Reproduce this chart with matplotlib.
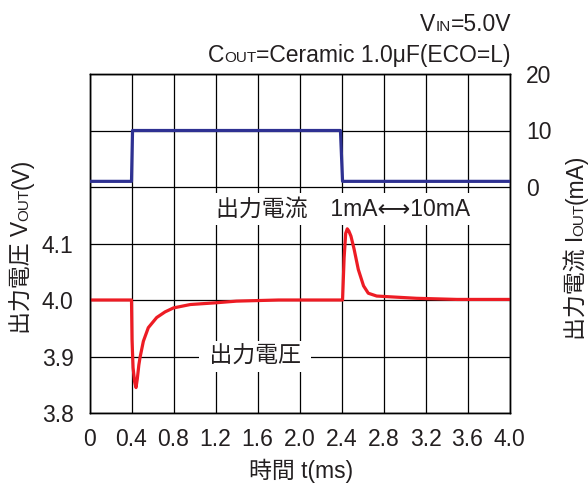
import numpy as np
import matplotlib.pyplot as plt

plt.rcParams['font.family'] = ['Liberation Sans', 'Noto Sans CJK JP', 'DejaVu Sans']

TXT = '#231f20'
BLUE = '#2e3192'
RED = '#ed1c24'
FS = 16.5
FS_SMALL = 11

# axis ticks
t_ticks = [0, 0.4, 0.8, 1.2, 1.6, 2.0, 2.4, 2.8, 3.2, 3.6, 4.0]
t_labels = ['0', '0.4', '0.8', '1.2', '1.6', '2.0', '2.4', '2.8', '3.2', '3.6', '4.0']
v_ticks = [3.8, 3.9, 4.0, 4.1, 4.2, 4.3, 4.4]
v_labels = ['3.8', '3.9', '4.0', '4.1', '', '', '']
i_ticks = [0, 10, 20]

# output current step (mA)
t_i = [0.0, 0.40, 0.41, 2.39, 2.41, 4.0]
i_out = [1, 1, 10, 10, 1, 1]

# output voltage response (V)
t_v = [0.0, 0.40, 0.405, 0.415, 0.43, 0.443, 0.455, 0.47, 0.481, 0.513, 0.56, 0.64,
       0.72, 0.80, 0.96, 1.20, 1.40, 1.80,
       2.41, 2.425, 2.44, 2.455, 2.47, 2.49, 2.52, 2.56, 2.61, 2.655, 2.735, 2.925,
       3.116, 3.31, 3.5, 4.0]
v_out = [4.0, 4.0, 3.93, 3.88, 3.855, 3.845, 3.86, 3.885, 3.898, 3.927, 3.951, 3.969,
         3.979, 3.986, 3.992, 3.995, 3.998, 4.0,
         4.0, 4.075, 4.118, 4.126, 4.122, 4.113, 4.09, 4.054, 4.025, 4.012, 4.007, 4.005,
         4.003, 4.002, 4.001, 4.001]

fig = plt.figure(figsize=(5.88, 4.84), dpi=100)
ax = fig.add_axes([89.5/588, 71/484, 420/588, 339/484])
ax2 = ax.twinx()

ax.plot(t_v, v_out, color=RED, lw=2.3, zorder=4,
        solid_joinstyle='round', solid_capstyle='round')
ax2.plot(t_i, i_out, color=BLUE, lw=2.3, zorder=4)

ax.set_xlim(0, 4.0)
ax.set_ylim(3.8, 4.4)
ax2.set_ylim(-40, 20)
ax.set_xticks(t_ticks)
ax.set_xticklabels(t_labels)
ax.set_yticks(v_ticks)
ax.set_yticklabels(v_labels)
ax2.set_yticks(i_ticks)
ax.grid(True, color='black', lw=0.9)
ax.set_axisbelow(True)

for a in (ax, ax2):
    for s in a.spines.values():
        s.set_linewidth(1.0)
        s.set_color('black')
ax.tick_params(axis='x', length=0, pad=10.5, labelsize=FS, labelcolor=TXT)
ax.tick_params(axis='y', length=0, pad=11.5, labelsize=FS, labelcolor=TXT)
ax2.tick_params(axis='y', length=0, pad=12, labelsize=FS, labelcolor=TXT)

box = dict(facecolor='white', edgecolor='none', pad=3)
ax.text(2.414, 4.161, '出力電流　1mA⟷10mA', fontsize=FS, color=TXT,
        ha='center', va='center', bbox=box, zorder=3)
ax.text(1.576, 3.9, ' 出力電圧 ', fontsize=FS, color=TXT,
        ha='center', va='center', bbox=box, zorder=3)

# x label
fig.text(301/588, 6/484, '時間 t(ms)', fontsize=FS, color=TXT, ha='center', va='baseline')


# top right conditions, built right to left on one baseline
def build_right(pieces, x_px, base_px):
    yb = base_px / 484
    prev = fig.text(x_px/588, yb, pieces[-1][0], fontsize=pieces[-1][1], color=TXT,
                    ha='right', va='baseline')
    for s, fs in reversed(pieces[:-1]):
        prev = fig.add_artist(plt.Annotation(s, xy=(0, yb), xycoords=(prev, 'figure fraction'),
                                             fontsize=fs, color=TXT, ha='right', va='baseline'))
    return prev


build_right([('V', FS), ('IN', FS_SMALL), ('=5.0V', FS)], 511, 484 - 31)
build_right([('C', FS), ('OUT', FS_SMALL), ('=Ceramic 1.0μF(ECO=L)', FS)], 511, 484 - 62)


# rotated axis labels, built bottom to top
def build_up(pieces, x_px, y_px):
    xb = x_px / 588
    prev = fig.text(xb, y_px/484, pieces[0][0], fontsize=pieces[0][1], color=TXT,
                    rotation=90, rotation_mode='anchor', ha='left', va='baseline')
    for s, fs in pieces[1:]:
        prev = fig.add_artist(plt.Annotation(s, xy=(xb, 1), xycoords=('figure fraction', prev),
                                             fontsize=fs, color=TXT, rotation=90,
                                             rotation_mode='anchor', ha='left', va='baseline'))
    return prev


build_up([('出力電圧 V', FS), ('OUT', FS_SMALL), ('(V)', FS)], 28.5, 484 - 334)
build_up([('出力電流 I', FS), ('OUT', FS_SMALL), ('(mA)', FS)], 583, 484 - 340)

fig.savefig('out.png', dpi=100)
